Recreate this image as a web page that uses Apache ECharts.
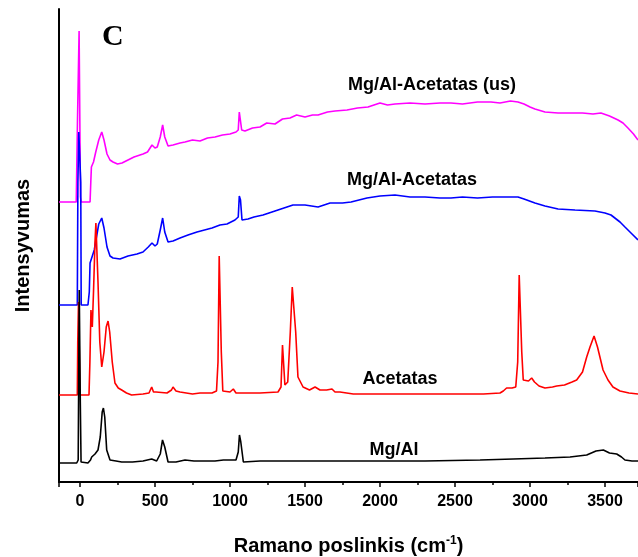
<!DOCTYPE html>
<html>
<head>
<meta charset="utf-8">
<title>Raman spektrai</title>
<script src="https://cdn.jsdelivr.net/npm/echarts@6/dist/echarts.min.js"></script>
<style>
  html, body { margin: 0; padding: 0; background: #fff; }
  #raman_chart { width: 638px; height: 557px; }
</style>
</head>
<body>
<div id="raman_chart"></div>
<script>
// spektrai: [poslinkis cm-1, intensyvumas (sant. vnt., su poslinkiu)]
var mgAlAcetatasUs = [
  [-140,280],[-25,280],[-20,282],[-17,359],[-10,360],[-6,451],[-1,451],[3,285],[8,280],[67,280],
  [72,300],[76,315],[90,320],[105,330],[125,342],[145,350],[160,342],[180,328],[200,322],[220,320],
  [250,318],[280,319],[320,322],[360,325],[420,328],[450,330],[480,337],[500,334],[515,335],[535,345],
  [551,357],[565,345],[587,336],[620,337],[667,339],[700,340],[750,342],[800,341],[850,344],[900,345],
  [950,347],[1000,348],[1040,350],[1055,352],[1062,370],[1070,368],[1078,352],[1100,351],[1150,354],
  [1200,355],[1245,359],[1300,358],[1350,363],[1400,364],[1444,367],[1500,365],[1550,367],[1587,367],
  [1650,370],[1700,371],[1780,372],[1850,374],[1920,375],[2000,379],[2050,377],[2100,378],[2200,379],
  [2300,378],[2400,379],[2473,379],[2550,378],[2650,380],[2740,380],[2800,379],[2870,381],[2920,380],
  [2960,378],[3000,375],[3033,373],[3100,370],[3187,369],[3250,369],[3350,369],[3420,368],[3473,369],
  [3530,366],[3587,362],[3620,359],[3653,354],[3690,348],[3720,342]
];
var mgAlAcetatas = [
  [-140,177],[-18,177],[-14,300],[-8,350],[-2,350],[5,300],[8,177],[53,177],[62,190],[67,219],
  [80,225],[95,232],[110,245],[125,258],[145,264],[160,254],[180,235],[200,226],[220,224],[267,223],
  [320,226],[380,228],[420,230],[455,235],[480,239],[500,236],[515,238],[535,252],[551,264],[565,250],
  [587,240],[620,241],[667,244],[720,247],[780,250],[830,252],[880,254],[933,257],[980,258],[1033,262],
  [1055,265],[1062,286],[1070,282],[1080,262],[1120,263],[1160,265],[1220,267],[1280,270],[1340,273],
  [1420,277],[1500,277],[1587,275],[1667,279],[1750,279],[1807,280],[1860,282],[1913,284],[2000,286],
  [2100,287],[2200,285],[2300,285],[2400,284],[2473,284],[2550,285],[2650,284],[2750,285],[2850,285],
  [2920,285],[2960,283],[3033,279],[3100,276],[3187,273],[3300,272],[3433,271],[3500,269],[3540,267],
  [3600,260],[3633,255],[3680,248],[3720,242]
];
var acetatas = [
  [-140,87],[-18,87],[-15,140],[-10,180],[-4,180],[0,90],[3,87],[60,87],[66,120],[73,172],
  [82,155],[90,190],[100,240],[106,259],[113,259],[120,200],[132,140],[145,115],[160,130],[175,155],
  [187,161],[198,150],[215,120],[233,99],[255,94],[278,92],[310,89],[344,87],[420,88],[460,89],
  [478,95],[490,90],[507,90],[580,89],[610,92],[620,95],[640,91],[667,90],[750,88],[800,89],
  [880,89],[910,91],[920,120],[928,226],[934,226],[942,130],[952,91],[1000,90],[1022,93],[1040,89],
  [1200,89],[1320,90],[1340,95],[1350,137],[1356,136],[1366,97],[1385,100],[1402,150],[1415,195],
  [1425,193],[1438,150],[1453,105],[1487,95],[1530,92],[1567,95],[1600,92],[1644,92],[1680,93],
  [1700,90],[1733,90],[1822,88],[2000,88],[2300,88],[2600,88],[2665,88],[2678,90],[2690,88],
  [2800,89],[2822,91],[2844,94],[2880,94],[2905,95],[2918,120],[2928,207],[2935,207],[2945,130],
  [2955,102],[2990,101],[3011,104],[3030,100],[3060,96],[3100,94],[3150,95],[3178,96],[3230,97],
  [3280,100],[3311,102],[3350,110],[3378,125],[3400,135],[3427,146],[3450,135],[3487,112],[3520,102],
  [3553,95],[3600,91],[3660,89],[3720,88]
];
var mgAl = [
  [-140,19],[-22,19],[-12,22],[-8,120],[-5,192],[-2,192],[2,80],[7,20],[53,19],[70,22],
  [78,25],[100,28],[120,32],[135,45],[148,70],[156,74],[165,65],[178,32],[200,22],[240,21],
  [278,20],[350,20],[420,21],[478,23],[511,21],[535,28],[550,42],[556,43],[565,35],[587,20],
  [640,20],[700,22],[711,22],[760,21],[900,21],[956,22],[1040,22],[1055,30],[1063,47],[1072,40],
  [1089,20],[1200,21],[1311,21],[1500,21],[1800,21],[1933,21],[2300,21],[2667,22],[2889,23],
  [3100,24],[3267,25],[3378,27],[3440,31],[3489,32],[3530,29],[3578,28],[3610,25],[3633,22],
  [3680,21],[3720,21]
];

var seriesNames = ['Mg/Al-Acetatas (us)', 'Mg/Al-Acetatas', 'Acetatas', 'Mg/Al'];
var seriesData = [mgAlAcetatasUs, mgAlAcetatas, acetatas, mgAl];
var seriesColors = ['#ff00ff', '#0000ff', '#ff0000', '#000000'];

var myChart = echarts.init(document.getElementById('raman_chart'));

var labelFont = { fontFamily: 'Liberation Sans', fontWeight: 'bold', fontSize: 18, fill: '#000' };

var option = {
  animation: false,
  backgroundColor: '#fff',
  grid: { left: 59, right: 0, top: 9, bottom: 75, containLabel: false, outerBoundsMode: 'none' },
  xAxis: {
    type: 'value',
    min: -140,
    max: 3720,
    splitNumber: 8,
    name: 'Ramano poslinkis (cm{sup|-1})',
    nameLocation: 'middle',
    nameGap: 53,
    nameTextStyle: {
      fontFamily: 'Liberation Sans', fontWeight: 'bold', fontSize: 20, color: '#000',
      rich: { sup: { fontFamily: 'Liberation Sans', fontWeight: 'bold', fontSize: 12, color: '#000', verticalAlign: 'top', padding: [0, 0, 10, 0] } }
    },
    axisLine: { onZero: false, lineStyle: { color: '#000', width: 2 } },
    axisTick: { length: 5, lineStyle: { color: '#000', width: 1.5 } },
    minorTick: { show: true, splitNumber: 2, length: 3, lineStyle: { color: '#000', width: 1.5 } },
    axisLabel: {
      showMinLabel: false, showMaxLabel: false, margin: 12,
      formatter: function (v) { return String(v); },
      fontFamily: 'Liberation Sans', fontWeight: 'bold', fontSize: 16, color: '#000'
    },
    splitLine: { show: false }
  },
  yAxis: {
    type: 'value',
    min: 0,
    max: 473,
    name: 'Intensyvumas',
    nameLocation: 'middle',
    nameGap: 26,
    nameTextStyle: { fontFamily: 'Liberation Sans', fontWeight: 'bold', fontSize: 20, color: '#000' },
    axisLine: { show: true, onZero: false, lineStyle: { color: '#000', width: 2 } },
    axisTick: { show: false },
    axisLabel: { show: false },
    splitLine: { show: false }
  },
  series: seriesData.map(function (d, i) {
    return {
      name: seriesNames[i],
      type: 'line',
      data: d,
      showSymbol: false,
      clip: true,
      lineStyle: { color: seriesColors[i], width: 1.6 },
      itemStyle: { color: seriesColors[i] }
    };
  }),
  graphic: [
    { type: 'text', left: 102, top: 22, style: { text: 'C', fontFamily: 'Liberation Serif', fontWeight: 'bold', fontSize: 30, fill: '#000' } },
    { type: 'text', x: 432, y: 85, style: Object.assign({ text: 'Mg/Al-Acetatas (us)', align: 'center', verticalAlign: 'middle' }, labelFont) },
    { type: 'text', x: 412, y: 180, style: Object.assign({ text: 'Mg/Al-Acetatas', align: 'center', verticalAlign: 'middle' }, labelFont) },
    { type: 'text', x: 400, y: 379, style: Object.assign({ text: 'Acetatas', align: 'center', verticalAlign: 'middle' }, labelFont) },
    { type: 'text', x: 394, y: 450, style: Object.assign({ text: 'Mg/Al', align: 'center', verticalAlign: 'middle' }, labelFont) }
  ]
};

myChart.setOption(option);
</script>
</body>
</html>
